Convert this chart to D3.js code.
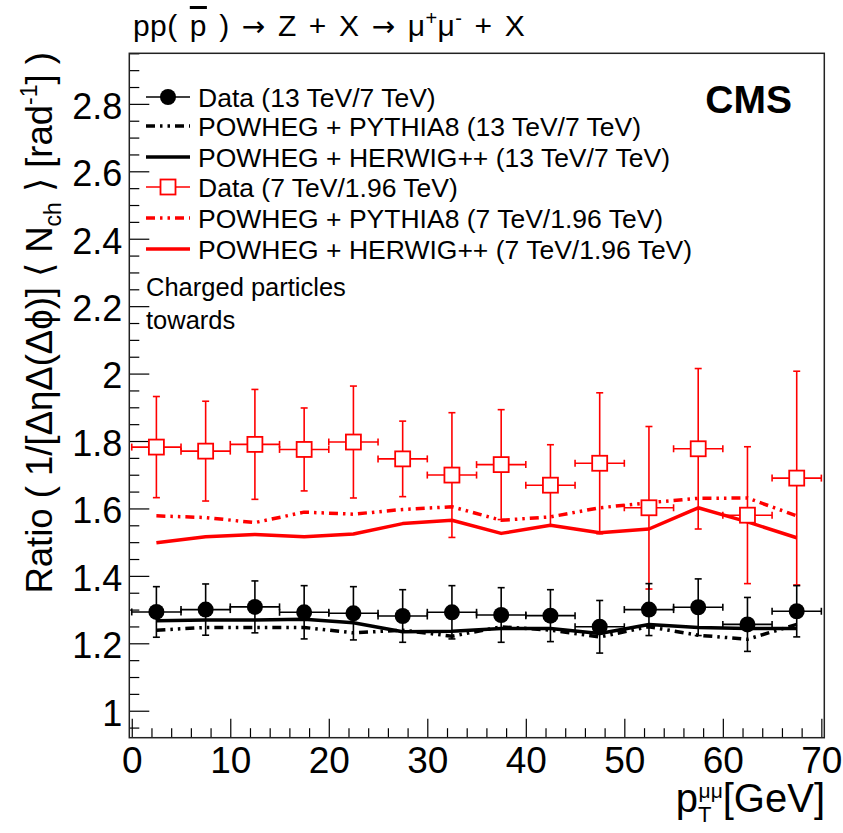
<!DOCTYPE html>
<html>
<head>
<meta charset="utf-8">
<script src="https://cdn.jsdelivr.net/npm/d3@7"></script>
<style>
  body { margin: 0; background: #fff; }
  text { font-family: "Liberation Sans", Arial, Helvetica, sans-serif; }
</style>
</head>
<body>
<div id="chart"></div>
<script>
// data (bin centres of 5 GeV bins)
const binCenters = [2.5, 7.5, 12.5, 17.5, 22.5, 27.5, 32.5, 37.5, 42.5, 47.5, 52.5, 57.5, 62.5, 67.5]
const binHalfWidth = 2.5

const data13over7 = [1.293, 1.300, 1.308, 1.292, 1.289, 1.281, 1.292, 1.284, 1.282, 1.249, 1.300, 1.307, 1.256, 1.295]
const err13over7  = [0.075, 0.076, 0.077, 0.079, 0.079, 0.078, 0.079, 0.081, 0.077, 0.078, 0.077, 0.084, 0.080, 0.076]
const pythia13over7  = [1.239, 1.247, 1.247, 1.247, 1.231, 1.239, 1.221, 1.249, 1.239, 1.219, 1.249, 1.224, 1.212, 1.256]
const herwig13over7  = [1.267, 1.269, 1.269, 1.271, 1.261, 1.234, 1.236, 1.244, 1.244, 1.229, 1.256, 1.247, 1.244, 1.244]

const data7over196 = [1.782, 1.770, 1.790, 1.775, 1.797, 1.747, 1.699, 1.730, 1.669, 1.734, 1.602, 1.777, 1.580, 1.690]
const err7over196  = [0.150, 0.148, 0.163, 0.123, 0.166, 0.112, 0.185, 0.163, 0.120, 0.209, 0.241, 0.238, 0.203, 0.317]
const pythia7over196 = [1.578, 1.573, 1.558, 1.589, 1.583, 1.597, 1.605, 1.565, 1.575, 1.602, 1.617, 1.630, 1.631, 1.578]
const herwig7over196 = [1.498, 1.516, 1.523, 1.516, 1.524, 1.555, 1.565, 1.526, 1.550, 1.528, 1.539, 1.602, 1.560, 1.513]

const xTicks = [0, 10, 20, 30, 40, 50, 60, 70]
const yTicks = [1, 1.2, 1.4, 1.6, 1.8, 2, 2.2, 2.4, 2.6, 2.8]
const yTickLabels = ["1", "1.2", "1.4", "1.6", "1.8", "2", "2.2", "2.4", "2.6", "2.8"]

const legendLabels = [
    "Data (13 TeV/7 TeV)",
    "POWHEG + PYTHIA8 (13 TeV/7 TeV)",
    "POWHEG + HERWIG++ (13 TeV/7 TeV)",
    "Data (7 TeV/1.96 TeV)",
    "POWHEG + PYTHIA8 (7 TeV/1.96 TeV)",
    "POWHEG + HERWIG++ (7 TeV/1.96 TeV)"
]

const width = 843
const height = 833
const frame = {left: 129.3, right: 824.3, top: 53.3, bottom: 737.7}
const red = "#ff0000"
const dashDot = "9 5 2.5 5 2.5 5"

const svg = d3.select("#chart")
    .append("svg")
    .attr("width", width)
    .attr("height", height)

const x = d3.scaleLinear().domain([-0.25, 70.3]).range([frame.left, frame.right])
const y = d3.scaleLinear().domain([0.92, 2.95]).range([frame.bottom, frame.top])

// axes (ticks point into the frame, ROOT style)
const xMinor = d3.range(0, 71, 2).filter(d => d % 10 !== 0)
const yMinor = d3.range(19, 60).map(d => d * 0.05).filter(d => Math.round(d * 100) % 20 !== 0)

svg.append("g")
    .attr("transform", `translate(0,${frame.bottom})`)
    .call(d3.axisBottom(x).tickValues(xMinor).tickSize(-9.5).tickFormat(""))
    .call(g => g.select(".domain").remove())
svg.append("g")
    .attr("transform", `translate(${frame.left},0)`)
    .call(d3.axisLeft(y).tickValues(yMinor).tickSize(-10).tickFormat(""))
    .call(g => g.select(".domain").remove())

const xAxisGroup = svg.append("g")
    .attr("transform", `translate(0,${frame.bottom})`)
    .call(d3.axisBottom(x).tickValues(xTicks).tickSize(-19).tickPadding(9).tickFormat(d3.format("d")))
xAxisGroup.select(".domain").remove()
xAxisGroup.selectAll("text").attr("font-size", 37).attr("fill", "#000")

const yAxisGroup = svg.append("g")
    .attr("transform", `translate(${frame.left},0)`)
    .call(d3.axisLeft(y).tickValues(yTicks).tickSize(-20).tickPadding(7)
        .tickFormat((d, i) => yTickLabels[i]))
yAxisGroup.select(".domain").remove()
yAxisGroup.selectAll("text").attr("font-size", 36).attr("dy", "0.4em").attr("fill", "#000")

svg.selectAll(".tick line").attr("stroke", "#000").attr("stroke-width", 1.2)

svg.append("rect")
    .attr("x", frame.left).attr("y", frame.top)
    .attr("width", frame.right - frame.left).attr("height", frame.bottom - frame.top)
    .attr("fill", "none").attr("stroke", "#222").attr("stroke-width", 1.5)

// model curves
const line = d3.line()
    .x(d => x(d[0]))
    .y(d => y(d[1]))
const toPts = vals => binCenters.map((c, i) => [c, vals[i]])

const curves = [
    {vals: herwig7over196, color: red, dash: null},
    {vals: pythia7over196, color: red, dash: dashDot},
    {vals: herwig13over7, color: "#000", dash: null},
    {vals: pythia13over7, color: "#000", dash: dashDot}
]
svg.append("g").selectAll("path").data(curves).enter().append("path")
    .attr("d", d => line(toPts(d.vals)))
    .attr("fill", "none")
    .attr("stroke", d => d.color)
    .attr("stroke-width", 3.5)
    .attr("stroke-linejoin", "round")
    .attr("stroke-dasharray", d => d.dash)

// data points with error bars
function drawData(vals, errs, color, kind) {
    const g = svg.append("g")
    const pts = binCenters.map((c, i) => ({c: c, v: vals[i], e: errs[i]}))
    const cap = 3.5
    pts.forEach(p => {
        const cx = x(p.c), cy = y(p.v)
        const x0 = x(p.c - binHalfWidth), x1 = x(p.c + binHalfWidth)
        const y0 = y(p.v - p.e), y1 = y(p.v + p.e)
        const segs = [
            [x0, cy, x1, cy], [cx, y0, cx, y1],
            [x0, cy - cap, x0, cy + cap], [x1, cy - cap, x1, cy + cap],
            [cx - cap, y0, cx + cap, y0], [cx - cap, y1, cx + cap, y1]
        ]
        segs.forEach(s => g.append("line")
            .attr("x1", s[0]).attr("y1", s[1]).attr("x2", s[2]).attr("y2", s[3])
            .attr("stroke", color).attr("stroke-width", 1.6))
    })
    if (kind === "circle") {
        g.selectAll("circle").data(pts).enter().append("circle")
            .attr("cx", d => x(d.c)).attr("cy", d => y(d.v)).attr("r", 8)
            .attr("fill", "#000")
    } else {
        g.selectAll("rect").data(pts).enter().append("rect")
            .attr("x", d => x(d.c) - 7.5).attr("y", d => y(d.v) - 7.5)
            .attr("width", 15).attr("height", 15)
            .attr("fill", "#fff").attr("stroke", color).attr("stroke-width", 1.8)
    }
}
drawData(data7over196, err7over196, red, "square")
drawData(data13over7, err13over7, "#000", "circle")

// legend
const legendY = [97, 126, 157, 187, 218, 249]
const legendStyle = [
    {type: "circle", color: "#000"},
    {type: "line", color: "#000", dash: dashDot},
    {type: "line", color: "#000", dash: null},
    {type: "square", color: red},
    {type: "line", color: red, dash: dashDot},
    {type: "line", color: red, dash: null}
]
const legend = svg.append("g")
legendLabels.forEach((label, i) => {
    const ly = legendY[i], st = legendStyle[i]
    if (st.type === "line") {
        legend.append("line")
            .attr("x1", 146).attr("x2", 190).attr("y1", ly).attr("y2", ly)
            .attr("stroke", st.color).attr("stroke-width", 3.5)
            .attr("stroke-dasharray", st.dash)
    } else {
        legend.append("line")
            .attr("x1", 146).attr("x2", 190).attr("y1", ly).attr("y2", ly)
            .attr("stroke", st.color).attr("stroke-width", 1.6)
        if (st.type === "circle") {
            legend.append("circle").attr("cx", 168).attr("cy", ly).attr("r", 8).attr("fill", "#000")
        } else {
            legend.append("rect").attr("x", 160.5).attr("y", ly - 7.5)
                .attr("width", 15).attr("height", 15)
                .attr("fill", "#fff").attr("stroke", red).attr("stroke-width", 1.8)
        }
    }
    legend.append("text")
        .attr("x", 198).attr("y", ly).attr("dy", "0.36em")
        .attr("font-size", 26.5)
        .text(label)
})

svg.append("text")
    .attr("x", 792).attr("y", 113)
    .attr("text-anchor", "end")
    .attr("font-size", 39).attr("font-weight", "bold")
    .text("CMS")

svg.append("text").attr("x", 146).attr("y", 296).attr("font-size", 25.5).text("Charged particles")
svg.append("text").attr("x", 146).attr("y", 329).attr("font-size", 25.5).text("towards")

// title
const title = svg.append("text").attr("x", 133).attr("y", 36)
    .attr("font-size", 30).attr("word-spacing", 3.5).attr("letter-spacing", 0.4)
const arrow = t => t.append("tspan").attr("font-family", "DejaVu Sans").attr("font-size", 28).text("\u2192")
title.append("tspan").text("pp( ")
title.append("tspan").attr("text-decoration", "overline").text("p")
title.append("tspan").text(" ) ")
arrow(title)
title.append("tspan").text(" Z + X ")
arrow(title)
title.append("tspan").text(" \u03bc")
title.append("tspan").attr("dy", -11).attr("font-size", 20).text("+")
title.append("tspan").attr("dy", 11).text("\u03bc")
title.append("tspan").attr("dy", -11).attr("font-size", 20).text("-")
title.append("tspan").attr("dy", 11).text(" + X")

// axis titles
const xTitle = svg.append("text")
    .attr("x", 825).attr("y", 812)
    .attr("text-anchor", "end")
    .attr("font-size", 40)
xTitle.append("tspan").text("p")
xTitle.append("tspan").attr("font-size", 22).attr("dy", 10).text("T")
xTitle.append("tspan").attr("font-size", 21).attr("dx", -13).attr("dy", -24).text("\u03bc\u03bc")
xTitle.append("tspan").attr("dy", 14).text("[GeV]")

const yTitle = svg.append("text")
    .attr("transform", "translate(52,52) rotate(-90)")
    .attr("text-anchor", "end")
    .attr("font-size", 36.5)
yTitle.append("tspan").text("Ratio ( 1/[\u0394\u03b7\u0394(\u0394\u03d5)] \u27e8 N")
yTitle.append("tspan").attr("font-size", 23).attr("dy", 9).text("ch")
yTitle.append("tspan").attr("dy", -9).text(" \u27e9 [rad")
yTitle.append("tspan").attr("font-size", 23).attr("dy", -15).text("-1")
yTitle.append("tspan").attr("dy", 15).text("] )")
</script>
</body>
</html>
